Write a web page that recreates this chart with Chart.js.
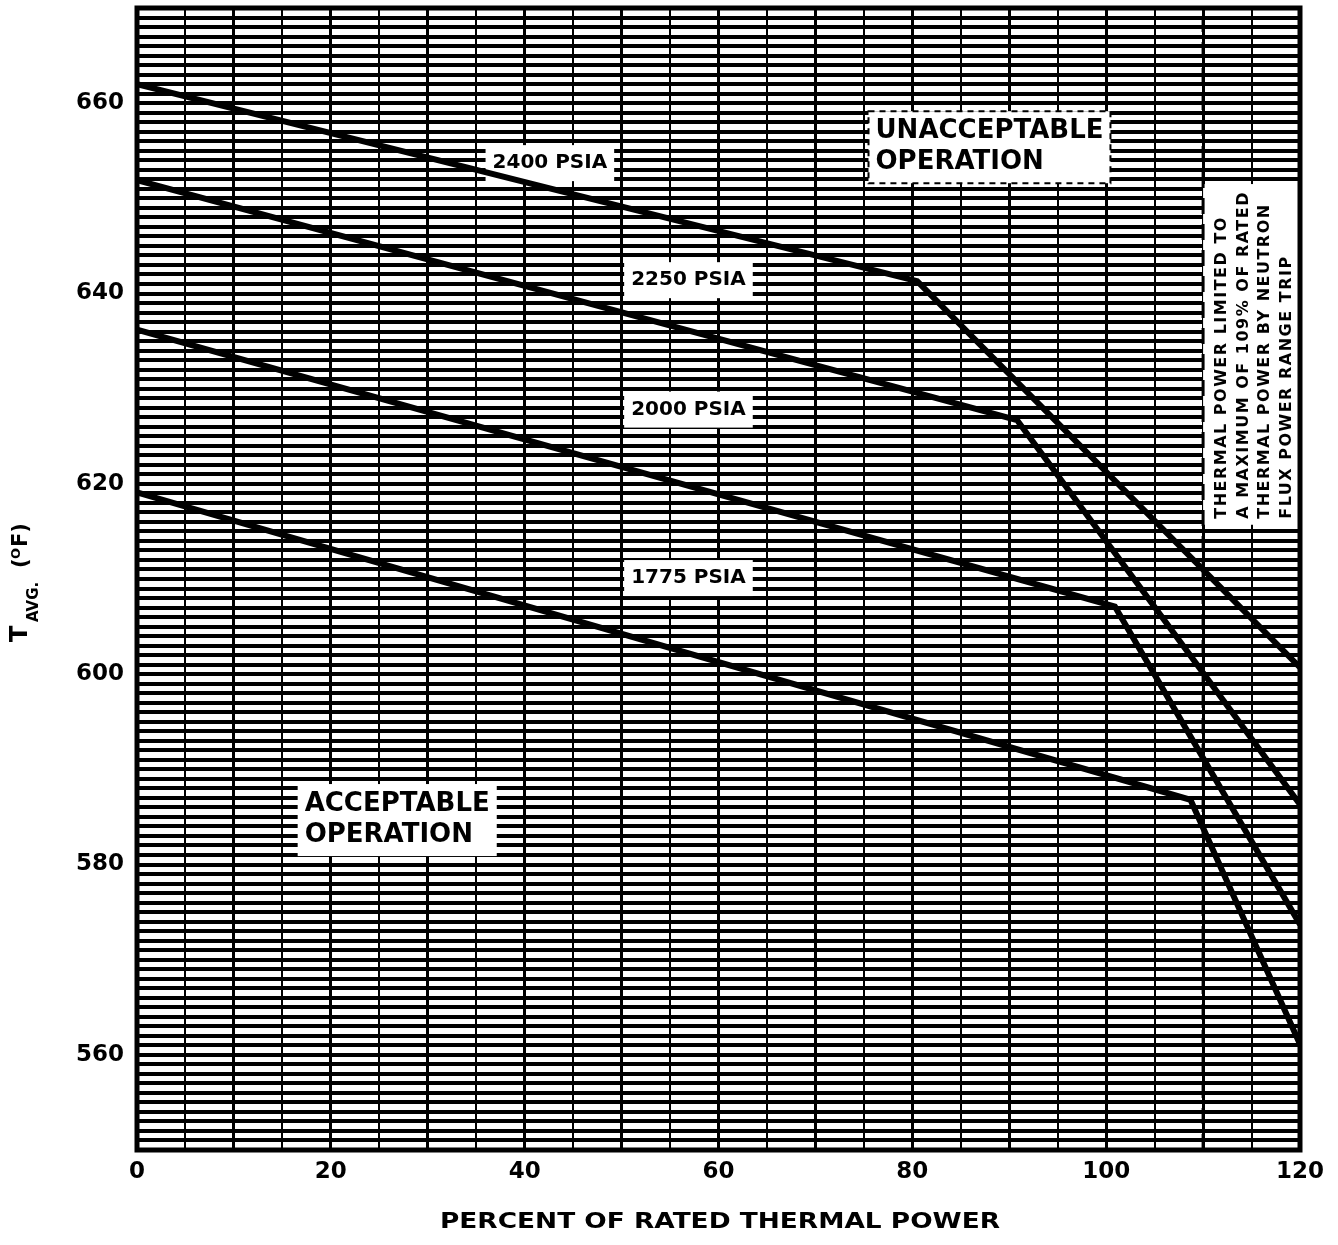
<!DOCTYPE html>
<html>
<head>
<meta charset="utf-8">
<script src="https://cdn.jsdelivr.net/npm/chart.js@4.4.1/dist/chart.umd.min.js"></script>
<style>
  html, body { margin: 0; padding: 0; background: #fff; }
  #wrap { width: 1338px; height: 1245px; }
</style>
</head>
<body>
<div id="wrap"><canvas id="chart" width="1338" height="1245"></canvas></div>
<script>
// axis ticks
const powerTicks = [0, 20, 40, 60, 80, 100, 120];
const tempTicks = [560, 580, 600, 620, 640, 660];

// safety limit lines (percent power, Tavg degF)
const power2400 = [0, 80.5, 120];
const temp2400 = [662.0, 641.3, 600.7];
const power2250 = [0, 90.8, 120];
const temp2250 = [651.9, 626.7, 586.3];
const power2000 = [0, 100.9, 120];
const temp2000 = [636.2, 607.1, 573.7];
const power1775 = [0, 108.7, 120];
const temp1775 = [619.1, 586.8, 561.1];

// neutron flux trip limit (dashed)
const powerLimit = [110, 110];
const tempLimit = [550, 670];

const FONT = '"DejaVu Sans", sans-serif';

function pts(xs, ys) {
  return xs.map((x, i) => ({ x: x, y: ys[i] }));
}

// text on the sheet, placed in data units
const notes = [
  { lines: ['2400 PSIA'], x: 42.6, y: 653.7, size: 20, lh: 26, align: 'center' },
  { lines: ['2250 PSIA'], x: 56.9, y: 641.4, size: 20, lh: 26, align: 'center' },
  { lines: ['2000 PSIA'], x: 56.9, y: 627.8, size: 20, lh: 26, align: 'center' },
  { lines: ['1775 PSIA'], x: 56.9, y: 610.1, size: 20, lh: 26, align: 'center' },
  { lines: ['UNACCEPTABLE', 'OPERATION'], x: 76.2, y: 657.0, size: 26, lh: 31, align: 'left', dashed: true },
  { lines: ['ACCEPTABLE', 'OPERATION'], x: 17.3, y: 586.3, size: 26, lh: 31, align: 'left' }
];
const tripNote = [
  'THERMAL POWER LIMITED TO',
  'A MAXIMUM OF 109% OF RATED',
  'THERMAL POWER BY NEUTRON',
  'FLUX POWER RANGE TRIP'
];

const sheetPlugin = {
  id: 'sheet',
  beforeDatasetsDraw(chart) {
    const ctx = chart.ctx;
    const xs = chart.scales.x, ys = chart.scales.y;
    ctx.save();
    ctx.textBaseline = 'middle';
    notes.forEach(n => {
      ctx.font = 'bold ' + n.size + 'px ' + FONT;
      const px = xs.getPixelForValue(n.x);
      const py = ys.getPixelForValue(n.y);
      const w = Math.max(...n.lines.map(l => ctx.measureText(l).width));
      const left = n.align === 'center' ? px - w / 2 : px;
      const bx = left - 7, by = py - n.lh / 2 - 5;
      const bw = w + 14, bh = n.lh * n.lines.length + 10;
      ctx.fillStyle = '#fff';
      ctx.fillRect(bx, by, bw, bh);
      if (n.dashed) {
        ctx.save();
        ctx.strokeStyle = '#000';
        ctx.lineWidth = 2;
        ctx.setLineDash([6, 5]);
        ctx.strokeRect(bx, by, bw, bh);
        ctx.restore();
      }
      ctx.fillStyle = '#000';
      ctx.textAlign = n.align;
      n.lines.forEach((l, i) => ctx.fillText(l, px, py + i * n.lh));
    });

    // vertical note box at the right edge
    const bx = xs.getPixelForValue(110);
    const top = ys.getPixelForValue(651.5);
    const bot = ys.getPixelForValue(615.7);
    ctx.fillStyle = '#fff';
    ctx.fillRect(bx, top, chart.chartArea.right - bx, bot - top);
    ctx.fillStyle = '#000';
    ctx.font = 'bold 16px ' + FONT;
    ctx.letterSpacing = '1.5px';
    ctx.textAlign = 'left';
    tripNote.forEach((l, i) => {
      ctx.save();
      ctx.translate(bx + 19 + i * 21.5, bot - 6);
      ctx.rotate(-Math.PI / 2);
      ctx.fillText(l, 0, 0);
      ctx.restore();
    });
    ctx.letterSpacing = '0px';
    ctx.restore();
  },
  afterDraw(chart) {
    const ctx = chart.ctx;
    const a = chart.chartArea;
    ctx.save();
    ctx.strokeStyle = '#000';
    ctx.lineWidth = 5;
    ctx.strokeRect(a.left, a.top, a.right - a.left, a.bottom - a.top);

    // x title
    ctx.fillStyle = '#000';
    ctx.font = 'bold 22px ' + FONT;
    ctx.textAlign = 'center';
    ctx.textBaseline = 'middle';
    const title = 'PERCENT OF RATED THERMAL POWER';
    const tw = ctx.measureText(title).width;
    ctx.save();
    ctx.translate(720, 1222);
    ctx.scale(560 / tw, 1);
    ctx.fillText(title, 0, 0);
    ctx.restore();

    // y title: T with AVG. subscript, (°F)
    ctx.save();
    ctx.translate(27, 642);
    ctx.rotate(-Math.PI / 2);
    ctx.textAlign = 'left';
    ctx.textBaseline = 'alphabetic';
    ctx.font = 'bold 24px ' + FONT;
    ctx.fillText('T', 0, 0);
    ctx.font = 'bold 15px ' + FONT;
    ctx.fillText('AVG.', 20, 11);
    ctx.font = 'bold 21px ' + FONT;
    ctx.fillText('(', 74, 0);
    ctx.font = 'bold 13px ' + FONT;
    ctx.fillText('O', 83, -7);
    ctx.font = 'bold 21px ' + FONT;
    ctx.fillText('F)', 95, 0);
    ctx.restore();
    ctx.restore();
  }
};

const lineStyle = {
  borderColor: '#000',
  borderWidth: 6,
  pointRadius: 0,
  fill: false,
  tension: 0,
  yAxisID: 'y'
};

function noPad(s) {
  s.paddingTop = 0;
  s.paddingBottom = 0;
}

new Chart(document.getElementById('chart').getContext('2d'), {
  type: 'line',
  data: {
    datasets: [
      Object.assign({ label: '2400 PSIA', data: pts(power2400, temp2400) }, lineStyle),
      Object.assign({ label: '2250 PSIA', data: pts(power2250, temp2250) }, lineStyle),
      Object.assign({ label: '2000 PSIA', data: pts(power2000, temp2000) }, lineStyle),
      Object.assign({ label: '1775 PSIA', data: pts(power1775, temp1775) }, lineStyle),
      Object.assign({}, lineStyle, {
        label: 'trip limit', data: pts(powerLimit, tempLimit),
        borderWidth: 3, borderDash: [16, 10]
      })
    ]
  },
  plugins: [sheetPlugin],
  options: {
    responsive: false,
    animation: false,
    layout: { padding: { left: 0, top: 8, right: 38, bottom: 0 } },
    plugins: { legend: { display: false }, tooltip: { enabled: false } },
    scales: {
      x: {
        type: 'linear', min: 0, max: 120,
        afterBuildTicks: s => {
          const t = [];
          for (let v = 0; v <= 120; v += 5) t.push({ value: v });
          s.ticks = t;
        },
        afterFit: s => { s.height = 95; s.paddingLeft = 0; s.paddingRight = 0; },
        grid: {
          color: '#000',
          lineWidth: c => (c.tick && c.tick.value % 10 === 0) ? 3 : 2,
          drawTicks: false
        },
        border: { display: false },
        ticks: {
          autoSkip: false, maxRotation: 0, padding: 8,
          color: '#000', font: { family: FONT, size: 23, weight: 'bold' },
          callback: v => powerTicks.includes(v) ? String(v) : ''
        }
      },
      y: {
        type: 'linear', position: 'left', min: 550, max: 670,
        afterBuildTicks: s => { s.ticks = tempTicks.map(v => ({ value: v })); },
        afterFit: s => { s.width = 137; noPad(s); },
        grid: { display: false },
        border: { display: false },
        ticks: {
          padding: 5, color: '#000',
          font: { family: FONT, size: 23, weight: 'bold' }
        }
      },
      yGrid: {
        type: 'linear', position: 'left', min: 550, max: 670,
        afterBuildTicks: s => {
          const t = [];
          for (let v = 550; v <= 670; v += 1) t.push({ value: v });
          s.ticks = t;
        },
        afterFit: s => { s.width = 0; noPad(s); },
        grid: { color: '#000', lineWidth: 4, drawTicks: false },
        border: { display: false },
        ticks: { display: false }
      }
    }
  }
});
</script>
</body>
</html>
